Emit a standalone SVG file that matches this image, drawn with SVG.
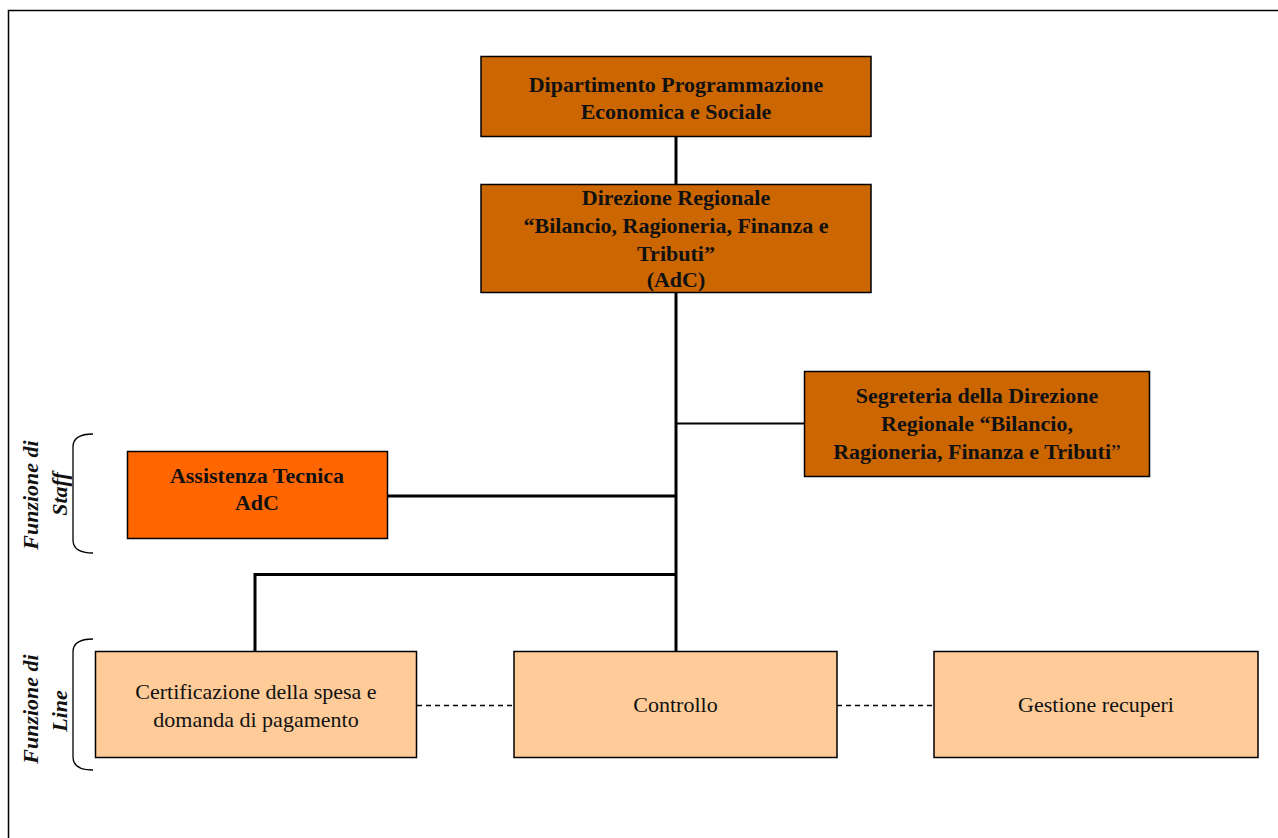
<svg xmlns="http://www.w3.org/2000/svg" width="1278" height="838" viewBox="0 0 1278 838">
  <style>
    .box { stroke: #000; stroke-width: 1.5; }
    .dark { fill: #CC6600; }
    .orange { fill: #FF6600; }
    .light { fill: #FFCC99; }
    .bold { font-family: "Liberation Serif", "Times New Roman", serif; font-size: 22px; font-weight: bold; fill: #111; text-anchor: middle; }
    .reg { font-family: "Liberation Serif", "Times New Roman", serif; font-size: 22px; fill: #111; text-anchor: middle; }
    .side { font-family: "Liberation Serif", "Times New Roman", serif; font-size: 22px; font-weight: bold; font-style: italic; fill: #111; text-anchor: middle; }
    .solid { stroke: #000; fill: none; }
    .dash { stroke: #000; stroke-width: 1.5; stroke-dasharray: 5 4; fill: none; }
    .brace { stroke: #000; stroke-width: 1.3; fill: none; }
  </style>

  <rect width="1278" height="838" fill="#fff"/>
  <!-- page frame -->
  <rect x="8.5" y="10.5" width="1300" height="900" fill="none" stroke="#000" stroke-width="1.5"/>

  <!-- connectors -->
  <g id="connectors">
    <line class="solid" x1="676" y1="136" x2="676" y2="184" stroke-width="3"/>
    <line class="solid" x1="676" y1="292" x2="676" y2="651" stroke-width="3"/>
    <line class="solid" x1="676" y1="423.5" x2="804" y2="423.5" stroke-width="2"/>
    <line class="solid" x1="388" y1="496" x2="676" y2="496" stroke-width="3"/>
    <polyline class="solid" points="676,574.5 255,574.5 255,651" stroke-width="3"/>
    <line class="dash" x1="417" y1="705.5" x2="514" y2="705.5"/>
    <line class="dash" x1="837" y1="705.5" x2="934" y2="705.5"/>
  </g>

  <g id="dipartimento">
    <rect class="box dark" x="481" y="56.5" width="390" height="80"/>
    <text class="bold" x="676" y="92">Dipartimento Programmazione</text>
    <text class="bold" x="676" y="119">Economica e Sociale</text>
  </g>

  <g id="direzione">
    <rect class="box dark" x="481" y="184.5" width="390" height="108"/>
    <text class="bold" x="676" y="205">Direzione Regionale</text>
    <text class="bold" x="676" y="233">“Bilancio, Ragioneria, Finanza e</text>
    <text class="bold" x="676" y="261">Tributi”</text>
    <text class="bold" x="676" y="287">(AdC)</text>
  </g>

  <g id="segreteria">
    <rect class="box dark" x="804.5" y="371.5" width="345" height="105"/>
    <text class="bold" x="977" y="403">Segreteria della Direzione</text>
    <text class="bold" x="977" y="431">Regionale “Bilancio,</text>
    <text class="bold" x="977" y="459">Ragioneria, Finanza e Tributi<tspan font-weight="normal">”</tspan></text>
  </g>

  <g id="assistenza">
    <rect class="box orange" x="127.5" y="451.5" width="260" height="87"/>
    <text class="bold" x="257" y="483">Assistenza Tecnica</text>
    <text class="bold" x="257" y="510">AdC</text>
  </g>

  <g id="certificazione">
    <rect class="box light" x="95.5" y="651.5" width="321" height="106"/>
    <text class="reg" x="256" y="699">Certificazione della spesa e</text>
    <text class="reg" x="256" y="727">domanda di pagamento</text>
  </g>

  <g id="controllo">
    <rect class="box light" x="514" y="651.5" width="323" height="106"/>
    <text class="reg" x="675.5" y="712">Controllo</text>
  </g>

  <g id="gestione">
    <rect class="box light" x="934" y="651.5" width="324" height="106"/>
    <text class="reg" x="1096" y="712">Gestione recuperi</text>
  </g>

  <!-- side labels with braces -->
  <g id="staff-label">
    <path class="brace" d="M93,434 C80,434 73,438 73,447 L73,540 C73,549 80,553 93,553"/>
    <text class="side" transform="translate(38,495) rotate(-90)">Funzione di</text>
    <text class="side" transform="translate(67,494) rotate(-90)">Staff</text>
  </g>

  <g id="line-label">
    <path class="brace" d="M93,639 C80,639 73,643 73,652 L73,757 C73,766 80,770 93,770"/>
    <text class="side" transform="translate(38,709) rotate(-90)">Funzione di</text>
    <text class="side" transform="translate(67,711) rotate(-90)">Line</text>
  </g>
</svg>
